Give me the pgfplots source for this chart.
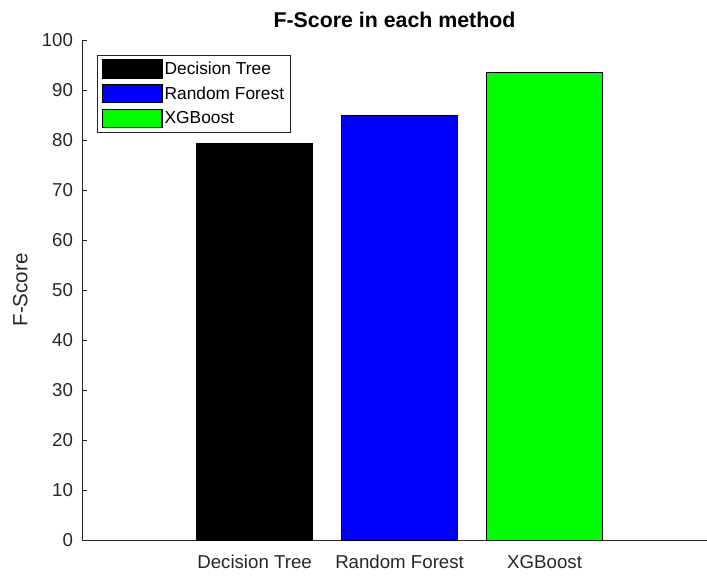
\documentclass[border=0pt]{standalone}
\usepackage{fontspec}
\setmainfont{Liberation Sans}
\usepackage{pgfplots}
\pgfplotsset{compat=1.18}
\definecolor{axgray}{rgb}{0.15,0.15,0.15}
\definecolor{mgreen}{rgb}{0,1,0}
\definecolor{mblue}{rgb}{0,0,1}
\pgfplotsset{mylegend/.style={legend image code/.code={\draw[##1,draw=black,line width=0.8pt] (0pt,-6.85pt) rectangle (44.8pt,6.85pt);}}}
\begin{document}
\begin{tikzpicture}[x=0.75pt,y=0.75pt]
\begin{axis}[
  at={(0,0)}, anchor=south west,
  scale only axis, width=468.75pt, height=375pt,
  xmin=-0.19, xmax=4.12, ymin=0, ymax=100,
  axis x line*=bottom, axis y line*=left,
  axis line style={axgray, line width=0.6pt},
  xtick={1,2,3}, xticklabels={Decision Tree,Random Forest,XGBoost},
  ytick={0,10,...,100},
  tick align=inside, major tick length=4pt,
  tick style={axgray, line width=0.6pt},
  ticklabel style={font=\fontsize{14}{16}\selectfont, text=axgray},
  xticklabel style={yshift=-8pt},
  yticklabel style={xshift=-3.25pt},
  /pgf/number format/assume math mode=true,
  ylabel={F-Score}, ylabel style={font=\fontsize{15.4}{18}\selectfont, text=axgray, yshift=3.8pt},
  title={F-Score in each method}, title style={font=\bfseries\fontsize{16}{18}\selectfont, text=black},
  legend style={at={(0.0245,0.97)}, anchor=north west, draw=axgray, line width=0.6pt,
    font=\fontsize{13}{15}\selectfont, row sep=4pt, inner sep=3pt,
    nodes={inner sep=1.6pt}},
  legend cell align=left,
]
\addplot[ybar, bar width=0.8, bar shift=0pt, fill=black, draw=black, mylegend] coordinates {(1,79.3)};
\addplot[ybar, bar width=0.8, bar shift=0pt, fill=mblue, draw=black, mylegend] coordinates {(2,84.9)};
\addplot[ybar, bar width=0.8, bar shift=0pt, fill=mgreen, draw=black, mylegend] coordinates {(3,93.6)};
\legend{Decision Tree,Random Forest,XGBoost}
\end{axis}
\pgfresetboundingbox
\path (-82,-35) rectangle (625,540);
\end{tikzpicture}
\end{document}
